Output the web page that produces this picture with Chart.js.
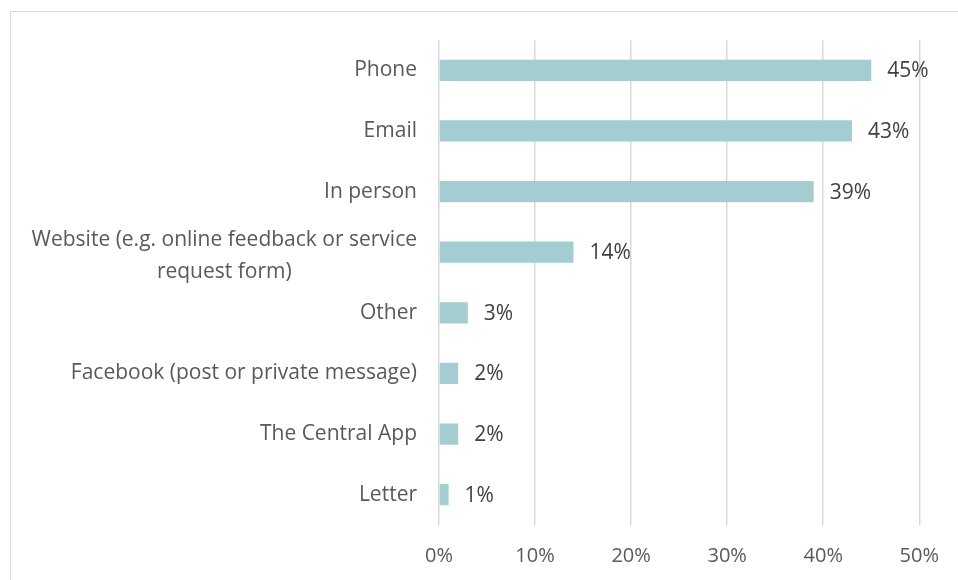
<!DOCTYPE html>
<html>
<head>
<meta charset="utf-8">
<script src="https://cdn.jsdelivr.net/npm/chart.js@4"></script>
<style>
  html, body { margin: 0; padding: 0; background: #fff; }
  #wrap { position: relative; width: 958px; height: 580px; overflow: hidden; }
  #frame { position: absolute; left: 10px; top: 11px; width: 980px; height: 600px; border: 1px solid #d9d9d9; box-sizing: border-box; }
  #Chart { position: absolute; left: 0; top: 0; }
</style>
</head>
<body>
<div id="wrap">
  <div id="frame"></div>
  <canvas id="Chart" width="958" height="580"></canvas>
</div>
<script>
// contact channels, top to bottom
var channels = [
  "Phone",
  "Email",
  "In person",
  ["Website (e.g. online feedback or service", "request form)"],
  "Other",
  "Facebook (post or private message)",
  "The Central App",
  "Letter"
];
// share of respondents (%)
var shares = [45, 43, 39, 14, 3, 2, 2, 1];
// x-axis ticks
var tickValues = [0, 10, 20, 30, 40, 50];

var FONT = "'Open Sans', sans-serif";

// category names, right aligned against the axis; wrapped lines centred on each other
var categoryLabels = {
  id: 'categoryLabels',
  afterDraw: function(chart) {
    var ctx = chart.ctx;
    var y = chart.scales.y;
    var right = chart.chartArea.left - 22;
    ctx.save();
    ctx.font = '21px ' + FONT;
    ctx.fillStyle = '#595959';
    ctx.textBaseline = 'middle';
    ctx.textAlign = 'center';
    var lineH = 32;
    channels.forEach(function(lab, i) {
      var lines = Array.isArray(lab) ? lab : [lab];
      var w = Math.max.apply(null, lines.map(function(l) { return ctx.measureText(l).width; }));
      var cx = right - w / 2;
      var cy = y.getPixelForValue(i);
      var y0 = cy - (lines.length - 1) * lineH / 2 + (lines.length > 1 ? 4 : 0);
      lines.forEach(function(l, k) {
        ctx.fillText(l, cx, y0 + k * lineH);
      });
    });
    ctx.restore();
  }
};

// value labels at the end of each bar
var valueLabels = {
  id: 'valueLabels',
  afterDatasetsDraw: function(chart) {
    var ctx = chart.ctx;
    var meta = chart.getDatasetMeta(0);
    ctx.save();
    ctx.font = '21px ' + FONT;
    ctx.fillStyle = '#404040';
    ctx.textBaseline = 'middle';
    ctx.textAlign = 'left';
    meta.data.forEach(function(bar, i) {
      ctx.fillText(shares[i] + '%', bar.x + 16, bar.y + 1);
    });
    ctx.restore();
  }
};

var ctx = document.getElementById("Chart");
var myChart = new Chart(ctx, {
  type: 'bar',
  data: {
    labels: channels,
    datasets: [{
      data: shares,
      backgroundColor: '#a3cdd0',
      borderWidth: 0,
      barPercentage: 0.7,
      categoryPercentage: 0.5
    }]
  },
  options: {
    indexAxis: 'y',
    responsive: false,
    animation: false,
    layout: { padding: { top: 40, right: 36, left: 0, bottom: 0 } },
    plugins: {
      legend: { display: false },
      tooltip: { enabled: false }
    },
    scales: {
      x: {
        min: 0,
        max: 50,
        afterBuildTicks: function(scale) {
          scale.ticks = tickValues.map(function(v) { return { value: v }; });
        },
        afterFit: function(scale) { scale.height = 55; },
        border: { display: false },
        grid: { color: '#d9d9d9', lineWidth: 1.5, drawTicks: false },
        ticks: {
          padding: 19,
          color: '#595959',
          font: { family: FONT, size: 20 },
          callback: function(v) { return v + '%'; }
        }
      },
      y: {
        afterFit: function(scale) { scale.width = 439; },
        border: { display: false },
        grid: { display: false },
        ticks: { display: false }
      }
    }
  },
  plugins: [categoryLabels, valueLabels]
});
</script>
</body>
</html>
